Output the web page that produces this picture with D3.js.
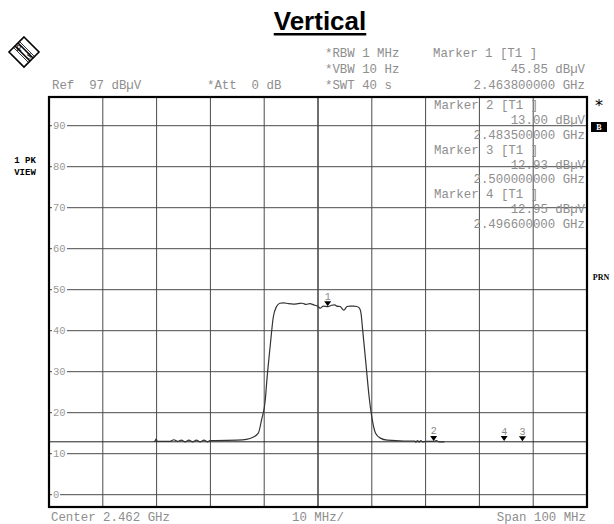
<!DOCTYPE html>
<html><head><meta charset="utf-8">
<script src="https://cdn.jsdelivr.net/npm/d3@7"></script>
<style>
html,body{margin:0;padding:0;background:#fff;}
svg{display:block;}
</style></head>
<body>
<svg id="chart" width="614" height="524"></svg>
<script>
// ---------- data ----------
const title = "Vertical";
const freqDomain = [2.412, 2.512];          // GHz (center 2.462, span 100 MHz)
const levelDomain = [-3, 97];               // dBµV (ref 97)
const gridFreqs = [2.422, 2.432, 2.442, 2.452, 2.462, 2.472, 2.482, 2.492, 2.502];
const gridLevels = [0, 10, 20, 30, 40, 50, 60, 70, 80, 90];
const displayLineLevel = [12.9];
const traceFreq = [2.4315, 2.4317, 2.4319, 2.4321, 2.4345, 2.4352, 2.4359, 2.4366, 2.4373, 2.4380,
  2.4387, 2.4394, 2.4401, 2.4408, 2.4415, 2.4419, 2.4430, 2.4470, 2.4487, 2.4499,
  2.4509, 2.4515, 2.4522, 2.4525, 2.4531, 2.4537, 2.4543, 2.4549, 2.4556, 2.4565,
  2.4574, 2.4583, 2.4591, 2.4598, 2.4605, 2.4612, 2.4619, 2.4624, 2.4630, 2.4638,
  2.4645, 2.4651, 2.4655, 2.4661, 2.4668, 2.4674, 2.4680, 2.4686, 2.4692, 2.4697,
  2.4700, 2.4703, 2.4709, 2.4715, 2.4721, 2.4727, 2.4736, 2.4749, 2.4780, 2.4800,
  2.4802, 2.4805, 2.4808, 2.4811, 2.4814, 2.4820, 2.4830, 2.4835, 2.4840, 2.4845, 2.4855];
const traceLevel = [13.0, 13.0, 13.6, 13.0, 13.0, 13.4, 13.0, 13.3, 12.9, 13.3,
  12.9, 13.3, 12.9, 13.3, 12.9, 13.2, 13.2, 13.3, 13.5, 14.0,
  15.0, 18.2, 23.1, 28.0, 36.1, 43.4, 45.9, 46.7, 46.8, 46.6,
  46.5, 46.6, 46.7, 46.4, 46.6, 46.3, 46.0, 45.5, 46.0, 45.85,
  46.2, 46.3, 46.0, 45.9, 45.0, 45.9, 46.0, 46.0, 45.9, 45.5,
  44.2, 40.2, 32.1, 23.9, 18.2, 15.0, 13.8, 13.3, 13.1, 13.1,
  12.8, 13.2, 12.8, 13.2, 12.9, 13.0, 13.0, 13.0, 13.2, 12.9, 12.9];
const markerIds = ["1", "2", "3", "4"];
const markerFreq = [2.4638, 2.4835, 2.5000, 2.4966];
const markerLevel = [45.85, 13.00, 12.93, 12.95];
const headerSettings = ["*RBW 1 MHz", "*VBW 10 Hz", "*SWT 40 s"];
const headerLeft = ["Ref  97 dBµV", "*Att  0 dB"];
const marker1Lines = ["Marker 1 [T1 ]", "45.85 dBµV", "2.463800000 GHz"];
const boxLines = ["Marker 2 [T1 ]", "13.00 dBµV", "2.483500000 GHz",
                  "Marker 3 [T1 ]", "12.93 dBµV", "2.500000000 GHz",
                  "Marker 4 [T1 ]", "12.95 dBµV", "2.496600000 GHz"];
const sideLeft = ["1 PK", "VIEW"];
const footer = ["Center 2.462 GHz", "10 MHz/", "Span 100 MHz"];

// ---------- drawing ----------
const svg = d3.select("#chart");
const L = 49, R = 587, T = 97, B = 507;
const x = d3.scaleLinear().domain(freqDomain).range([L, R]);
const y = d3.scaleLinear().domain(levelDomain).range([B, T]);
const mono = "'Liberation Mono','DejaVu Sans Mono',monospace";
const grey = "#8e8e8e";

// title
const tt = svg.append("text").attr("x", 320).attr("y", 30)
  .attr("text-anchor", "middle")
  .style("font-family", "'Liberation Sans',Arial,sans-serif")
  .style("font-weight", "bold").style("font-size", "26px").text(title);
const tw = tt.node().getComputedTextLength();
svg.append("rect").attr("x", 320 - tw / 2).attr("y", 33).attr("width", tw).attr("height", 2.5).attr("fill", "#000");

// logo
const logo = svg.append("g").attr("transform", "translate(24,52)");
logo.append("path").attr("d", "M0,-15 L15,0 L0,15 L-15,0 Z").attr("fill", "#fff").attr("stroke", "#000").attr("stroke-width", 1.6);
logo.append("path").attr("d", "M-9,-6 L6,9").attr("stroke", "#000").attr("stroke-width", 1.6);
logo.append("path").attr("d", "M-6,-9 L9,6").attr("stroke", "#000").attr("stroke-width", 1.6);
logo.append("path").attr("d", "M-10.5,-4.5 L4.5,10.5").attr("stroke", "#000").attr("stroke-width", 0.8);
logo.append("path").attr("d", "M-4.5,-10.5 L10.5,4.5").attr("stroke", "#000").attr("stroke-width", 0.8);
logo.append("text").attr("x", -5).attr("y", -1).attr("text-anchor", "middle").style("font-family", "'Liberation Serif',serif").style("font-size", "8px").text("R");
logo.append("text").attr("x", 5).attr("y", 7).attr("text-anchor", "middle").style("font-family", "'Liberation Serif',serif").style("font-size", "8px").text("S");

// header
const hdr = svg.append("g").style("font-family", mono).style("font-size", "12.4px").attr("fill", grey);
hdr.selectAll("text.s").data(headerSettings).join("text").attr("class", "s")
  .attr("x", 325).attr("y", (d, i) => 53 + i * 16).attr("dy", "0.35em").text(d => d).attr("xml:space", "preserve");
hdr.append("text").attr("x", 52).attr("y", 85).attr("dy", "0.35em").attr("xml:space", "preserve").text(headerLeft[0]);
hdr.append("text").attr("x", 207).attr("y", 85).attr("dy", "0.35em").attr("xml:space", "preserve").text(headerLeft[1]);
hdr.selectAll("text.m").data(marker1Lines).join("text").attr("class", "m")
  .attr("x", (d, i) => i === 0 ? 433 : 585).attr("text-anchor", (d, i) => i === 0 ? "start" : "end")
  .attr("y", (d, i) => 53 + i * 16).attr("dy", "0.35em").text(d => d);

// grid
const grid = svg.append("g");
grid.selectAll("line.v").data(gridFreqs).join("line").attr("class", "v")
  .attr("x1", d => x(d)).attr("x2", d => x(d)).attr("y1", T).attr("y2", B)
  .attr("stroke", "#4a4a4a").attr("stroke-width", (d, i) => i === 4 ? 1.6 : 1);
grid.selectAll("line.h").data(gridLevels).join("line").attr("class", "h")
  .attr("x1", L).attr("x2", R).attr("y1", d => y(d)).attr("y2", d => y(d))
  .attr("stroke", "#4a4a4a").attr("stroke-width", 1);
// tick labels
const yl = grid.selectAll("g.yl").data(gridLevels).join("g").attr("class", "yl")
  .attr("transform", d => `translate(0,${y(d)})`);
yl.append("rect").attr("x", 52).attr("y", -5).attr("width", d => d === 0 ? 8 : 15).attr("height", 10).attr("fill", "#fff");
yl.append("text").attr("x", 53).attr("dy", "0.35em").style("font-family", mono).style("font-size", "10.5px")
  .attr("fill", "#999").text(d => d);

// display line
svg.selectAll("line.dl").data(displayLineLevel).join("line").attr("class", "dl")
  .attr("x1", L).attr("x2", R).attr("y1", d => y(d)).attr("y2", d => y(d))
  .attr("stroke", "#222").attr("stroke-width", 1);

// marker text box
svg.append("g").style("font-family", mono).style("font-size", "12.4px").attr("fill", grey)
  .selectAll("text").data(boxLines).join("text")
  .attr("x", (d, i) => i % 3 === 0 ? 434 : 585).attr("text-anchor", (d, i) => i % 3 === 0 ? "start" : "end")
  .attr("y", (d, i) => 105 + i * 14.8).attr("dy", "0.35em").text(d => d);

// trace
const pts = traceFreq.map((f, i) => [f, traceLevel[i]]);
svg.append("path").datum(pts)
  .attr("d", d3.line().x(d => x(d[0])).y(d => y(d[1])).curve(d3.curveMonotoneX))
  .attr("fill", "none").attr("stroke", "#333").attr("stroke-width", 1.2);

// markers
const mk = svg.selectAll("g.mk").data(markerIds).join("g").attr("class", "mk")
  .attr("transform", (d, i) => `translate(${x(markerFreq[i])},${y(markerLevel[i]) - 0.5})`);
mk.append("path").attr("d", "M-3.5,-5 L3.5,-5 L0,0 Z").attr("fill", "#000");
mk.append("text").attr("y", -10).attr("dy", "0.35em").attr("text-anchor", "middle")
  .style("font-family", mono).style("font-size", "10px").attr("fill", "#888").text(d => d);

// frame
svg.append("rect").attr("x", L).attr("y", T).attr("width", R - L).attr("height", B - T)
  .attr("fill", "none").attr("stroke", "#000").attr("stroke-width", 2.2);

// side labels
svg.append("g").style("font-family", mono).style("font-weight", "bold").style("font-size", "9px")
  .selectAll("text").data(sideLeft).join("text").attr("x", 25).attr("text-anchor", "middle")
  .attr("y", (d, i) => 160 + i * 12).attr("dy", "0.35em").attr("xml:space", "preserve").text(d => d);
svg.append("text").attr("x", 599).attr("y", 111).attr("text-anchor", "middle")
  .style("font-family", "'DejaVu Sans',sans-serif").style("font-size", "16px").text("*");
svg.append("rect").attr("x", 591).attr("y", 122).attr("width", 16).attr("height", 10).attr("fill", "#000");
svg.append("text").attr("x", 599).attr("y", 127).attr("dy", "0.35em").attr("text-anchor", "middle")
  .style("font-family", "'Liberation Serif',serif").style("font-weight", "bold").style("font-size", "8px")
  .attr("fill", "#fff").text("B");
svg.append("text").attr("x", 601).attr("y", 277).attr("dy", "0.35em").attr("text-anchor", "middle")
  .style("font-family", "'Liberation Serif',serif").style("font-weight", "bold").style("font-size", "8px").text("PRN");

// footer
svg.append("g").style("font-family", mono).style("font-size", "12.4px").attr("fill", grey)
  .selectAll("text").data(footer).join("text")
  .attr("x", (d, i) => [51, 318, 586][i]).attr("text-anchor", (d, i) => ["start", "middle", "end"][i])
  .attr("y", 517).attr("dy", "0.35em").text(d => d);
</script>
</body></html>
